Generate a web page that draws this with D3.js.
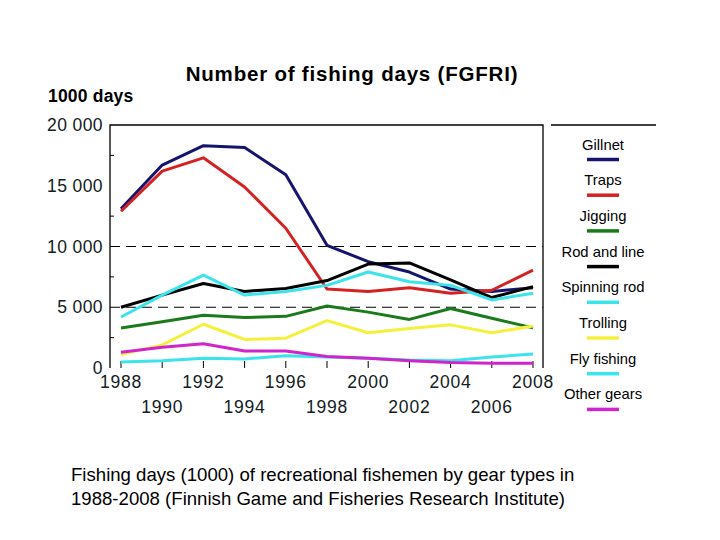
<!DOCTYPE html>
<html>
<head>
<meta charset="utf-8">
<script src="https://cdn.jsdelivr.net/npm/d3@7"></script>
<style>
  body { margin: 0; background: #fff; }
  svg { display: block; font-family: 'Liberation Sans', Arial, sans-serif; }
</style>
</head>
<body>
<div class="chart"></div>
<script>
const years = [1988, 1990, 1992, 1994, 1996, 1998, 2000, 2002, 2004, 2006, 2008]

const gillnet = [13100, 16700, 18300, 18150, 15900, 10100, 8750, 7900, 6500, 6300, 6600]
const traps = [12900, 16200, 17300, 14900, 11500, 6500, 6300, 6600, 6150, 6400, 8050]
const jigging = [3300, 3800, 4350, 4150, 4250, 5100, 4600, 4000, 4900, 4100, 3300]
const rodAndLine = [5000, 6000, 6950, 6300, 6550, 7200, 8550, 8650, 7250, 5800, 6700]
const spinningRod = [4200, 6000, 7650, 6000, 6300, 6800, 7900, 7100, 6800, 5600, 6150]
const trolling = [1100, 1900, 3600, 2350, 2450, 3900, 2900, 3250, 3550, 2900, 3450]
const flyFishing = [500, 600, 800, 750, 1000, 900, 800, 650, 600, 900, 1150]
const otherGears = [1300, 1700, 2000, 1400, 1400, 950, 800, 600, 450, 400, 400]

const seriesNames = ['Gillnet', 'Traps', 'Jigging', 'Rod and line', 'Spinning rod', 'Trolling', 'Fly fishing', 'Other gears']
const seriesColors = ['#15156e', '#d42222', '#1b7a1b', '#000000', '#3ae4ea', '#f4f03c', '#3ae4ea', '#d024cc']
const seriesValues = [gillnet, traps, jigging, rodAndLine, spinningRod, trolling, flyFishing, otherGears]

const yTicks = [0, 5000, 10000, 15000, 20000]
const yMinorTicks = [2500, 7500, 12500, 17500]
const gridValues = [5000, 10000]

drawChart('.chart')

//helpers

function drawChart(sel) {
  const svg = d3.select(sel).append('svg')
    .attr('width', 720)
    .attr('height', 540)

  const left = 110, right = 543, top = 125, bottom = 368

  const x = d3.scaleLinear().domain([1988, 2008]).range([121, 533])
  const y = d3.scaleLinear().domain([0, 20000]).range([bottom, top])

  // title and unit
  svg.append('text')
    .attr('x', 352).attr('y', 81)
    .attr('text-anchor', 'middle')
    .attr('font-size', 20.5).attr('font-weight', 'bold')
    .attr('letter-spacing', 0.8)
    .text('Number of fishing days (FGFRI)')

  svg.append('text')
    .attr('x', 48).attr('y', 102)
    .attr('font-size', 17.5).attr('font-weight', 'bold')
    .attr('letter-spacing', 0.2)
    .text('1000 days')

  // frame: left, top, right
  svg.append('path')
    .attr('d', `M${left},${bottom}V${top}H${right}V${bottom}`)
    .attr('fill', 'none').attr('stroke', '#000').attr('stroke-width', 1.3)

  // dashed grid
  svg.selectAll('.grid')
    .data(gridValues)
    .enter().append('line')
    .attr('x1', left).attr('x2', right)
    .attr('y1', d => y(d)).attr('y2', d => y(d))
    .attr('stroke', '#000').attr('stroke-width', 1)
    .attr('stroke-dasharray', '10,6')

  // y minor ticks pointing inward
  svg.selectAll('.ymt')
    .data(yMinorTicks)
    .enter().append('line')
    .attr('x1', left).attr('x2', left + 4)
    .attr('y1', d => y(d)).attr('y2', d => y(d))
    .attr('stroke', '#000').attr('stroke-width', 1)

  // y labels
  svg.selectAll('.ylab')
    .data(yTicks)
    .enter().append('text')
    .attr('x', 103)
    .attr('y', d => y(d) + 6)
    .attr('text-anchor', 'end')
    .attr('font-size', 17.5).attr('fill', '#112020')
    .attr('letter-spacing', 0.4)
    .text(d => d3.format(',')(d).replace(',', ' '))

  // x ticks pointing up from baseline
  svg.selectAll('.xt')
    .data(years)
    .enter().append('line')
    .attr('x1', d => x(d)).attr('x2', d => x(d))
    .attr('y1', bottom).attr('y2', bottom - 7)
    .attr('stroke', '#000').attr('stroke-width', 1)

  // x labels, staggered in two rows
  svg.selectAll('.xlab')
    .data(years)
    .enter().append('text')
    .attr('x', d => x(d))
    .attr('y', (d, i) => i % 2 === 0 ? 388 : 413)
    .attr('text-anchor', 'middle')
    .attr('font-size', 17.5).attr('fill', '#112020')
    .attr('letter-spacing', 0.8)
    .text(d => d)

  // series lines
  const line = d3.line()
    .x((d, i) => x(years[i]))
    .y(d => y(d))

  svg.selectAll('.series')
    .data(seriesValues)
    .enter().append('path')
    .attr('d', d => line(d))
    .attr('fill', 'none')
    .attr('stroke', (d, i) => seriesColors[i])
    .attr('stroke-width', 3)
    .attr('stroke-linejoin', 'round')

  drawLegend(svg)

  // caption
  const caption = svg.append('text')
    .attr('font-size', 18.6).attr('fill', '#000')
  caption.append('tspan').attr('x', 71).attr('y', 481)
    .text('Fishing days (1000) of recreational fishemen by gear types in')
  caption.append('tspan').attr('x', 71).attr('y', 505)
    .text('1988-2008 (Finnish Game and Fisheries Research Institute)')
}

function drawLegend(svg) {
  const cx = 603, firstY = 159.5, step = 35.7

  svg.append('line')
    .attr('x1', 551).attr('x2', 656)
    .attr('y1', 125).attr('y2', 125)
    .attr('stroke', '#000').attr('stroke-width', 1.3)

  const item = svg.selectAll('.leg')
    .data(seriesNames)
    .enter().append('g')
    .attr('transform', (d, i) => `translate(${cx},${firstY + i * step})`)

  item.append('text')
    .attr('y', -10)
    .attr('text-anchor', 'middle')
    .attr('font-size', 14.8)
    .text(d => d)

  item.append('line')
    .attr('x1', -16).attr('x2', 16)
    .attr('stroke', (d, i) => seriesColors[i])
    .attr('stroke-width', 3.5)
}
</script>
</body>
</html>
